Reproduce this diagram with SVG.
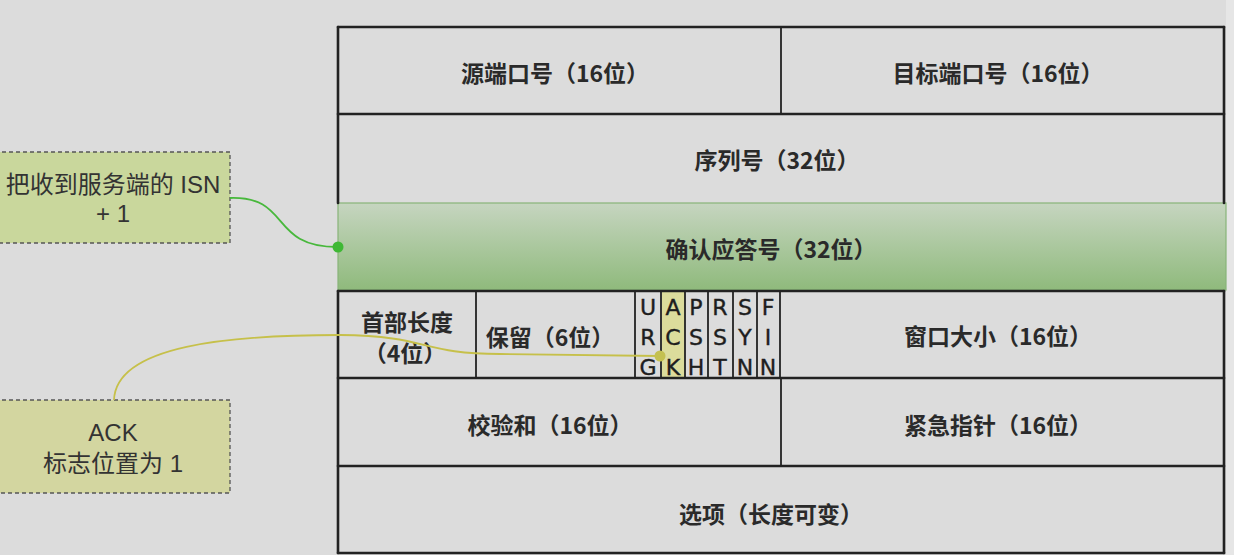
<svg xmlns="http://www.w3.org/2000/svg" width="1234" height="555" viewBox="0 0 1234 555">
<defs>
<linearGradient id="gAck" x1="0" y1="0" x2="0" y2="1">
<stop offset="0" stop-color="#c6d5c0"/>
<stop offset="1" stop-color="#8fba7c"/>
</linearGradient>
<style>
.bg{fill:#dcdcdc}
.cell{fill:#dcdcdc}
.hl{stroke:#222;stroke-width:2.6;fill:none;stroke-linecap:round}
.vl{stroke:#222;stroke-width:1.8;fill:none}
.t{font-family:"Noto Sans CJK SC","Noto Sans",sans-serif;font-weight:bold;font-size:23px;fill:#2a2a2a;text-anchor:middle}
.f{font-family:"DejaVu Sans","Liberation Sans",sans-serif;font-size:22px;fill:#1e1e1e;stroke:#1e1e1e;stroke-width:0.4;text-anchor:middle}
.note{font-family:"Liberation Sans","Noto Sans CJK SC",sans-serif;font-size:24px;fill:#333;text-anchor:middle}
.box{stroke:#555;stroke-width:1.3;stroke-dasharray:4 3}
</style>
</defs>
<rect class="bg" x="0" y="0" width="1234" height="555"/>
<rect x="1226" y="0" width="8" height="555" fill="#e6e6e6"/>

<g id="header-table">
<rect class="cell" x="338" y="27" width="886" height="526"/>
<rect x="338" y="203" width="888" height="87" fill="url(#gAck)" stroke="#88b478" stroke-width="1.2"/>
<rect x="662" y="291" width="23" height="87" fill="#dcdc9c"/>
<line class="hl" x1="338" y1="27" x2="1224" y2="27"/>
<line class="hl" x1="338" y1="114" x2="1224" y2="114"/>
<line class="hl" x1="338" y1="291" x2="1224" y2="291"/>
<line class="hl" x1="338" y1="378" x2="1224" y2="378"/>
<line class="hl" x1="338" y1="466" x2="1224" y2="466"/>
<line class="hl" x1="338" y1="553" x2="1224" y2="553"/>
<line class="hl" x1="338" y1="27" x2="338" y2="203"/>
<line class="hl" x1="338" y1="291" x2="338" y2="553"/>
<line class="hl" x1="1224" y1="27" x2="1224" y2="203"/>
<line class="hl" x1="1224" y1="291" x2="1224" y2="553"/>
<line class="vl" x1="781" y1="27" x2="781" y2="114"/>
<line class="vl" x1="476" y1="291" x2="476" y2="378"/>
<line class="vl" x1="635" y1="291" x2="635" y2="378"/>
<line class="vl" x1="661" y1="291" x2="661" y2="378"/>
<line class="vl" x1="685" y1="291" x2="685" y2="378"/>
<line class="vl" x1="708" y1="291" x2="708" y2="378"/>
<line class="vl" x1="733" y1="291" x2="733" y2="378"/>
<line class="vl" x1="757" y1="291" x2="757" y2="378"/>
<line class="vl" x1="780" y1="291" x2="780" y2="378"/>
<line class="vl" x1="781" y1="378" x2="781" y2="466"/>
</g>

<g id="field-src-port"><text class="t" x="555" y="82">源端口号（16位）</text></g>
<g id="field-dst-port"><text class="t" x="998" y="82">目标端口号（16位）</text></g>
<g id="field-seq"><text class="t" x="777" y="169">序列号（32位）</text></g>
<g id="field-ack-num"><text class="t" x="771" y="258">确认应答号（32位）</text></g>
<g id="field-hdr-len"><text class="t" x="407" y="331">首部长度</text><text class="t" x="405" y="362">（4位）</text></g>
<g id="field-reserved"><text class="t" x="550" y="346">保留（6位）</text></g>
<g id="field-flags">
<text class="f" x="648" y="315">U</text><text class="f" x="648" y="345">R</text><text class="f" x="648" y="375">G</text>
<text class="f" x="673" y="315">A</text><text class="f" x="673" y="345">C</text><text class="f" x="673" y="375">K</text>
<text class="f" x="696" y="315">P</text><text class="f" x="696" y="345">S</text><text class="f" x="696" y="375">H</text>
<text class="f" x="720" y="315">R</text><text class="f" x="720" y="345">S</text><text class="f" x="720" y="375">T</text>
<text class="f" x="745" y="315">S</text><text class="f" x="745" y="345">Y</text><text class="f" x="745" y="375">N</text>
<text class="f" x="768" y="315">F</text><text class="f" x="768" y="345">I</text><text class="f" x="768" y="375">N</text>
</g>
<g id="field-window"><text class="t" x="998" y="345">窗口大小（16位）</text></g>
<g id="field-checksum"><text class="t" x="550" y="434">校验和（16位）</text></g>
<g id="field-urgent"><text class="t" x="998" y="434">紧急指针（16位）</text></g>
<g id="field-options"><text class="t" x="771" y="523">选项（长度可变）</text></g>

<g id="note-isn">
<rect class="box" x="-5" y="152" width="235" height="91" fill="#c9d79c"/>
<text class="note" x="113" y="193">把收到服务端的 ISN</text>
<text class="note" x="113" y="222">+ 1</text>
</g>
<g id="note-ack">
<rect class="box" x="-5" y="400" width="235" height="93" fill="#d3d6a0"/>
<text class="note" x="113" y="441">ACK</text>
<text class="note" x="113" y="472">标志位置为 1</text>
</g>

<g id="connectors" fill="none">
<path d="M230,198 C292,196 268,247 338,247" stroke="#48b83c" stroke-width="1.8"/>
<circle cx="338" cy="247" r="5.5" fill="#3fb835"/>
<path d="M114,400 C116,345 230,335 340,335 C430,336 420,354 500,354 L660,356" stroke="#c6c04a" stroke-width="1.8"/>
<circle cx="660" cy="356" r="5.5" fill="#c4c050"/>
</g>
</svg>
